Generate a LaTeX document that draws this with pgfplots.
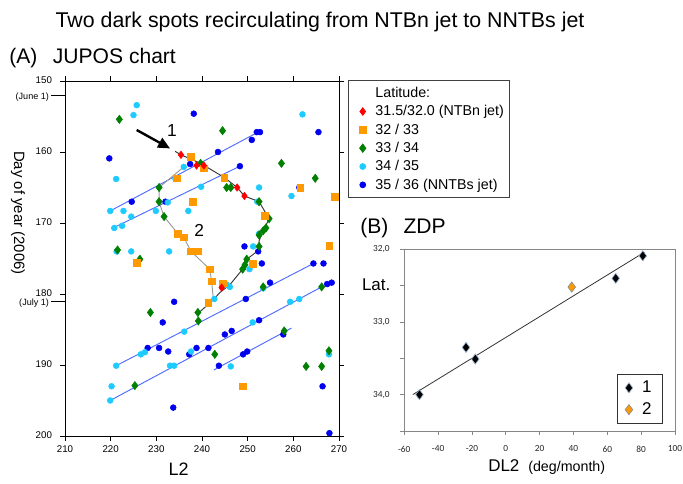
\documentclass[border=0pt]{standalone}
\usepackage{fontspec}
\setmainfont{Liberation Sans}
\newfontfamily\calib{Carlito}
\usepackage{pgfplots}
\pgfplotsset{compat=1.18}
\usetikzlibrary{arrows.meta}

\definecolor{latred}{HTML}{FF0000}
\definecolor{latorange}{HTML}{FF9900}
\definecolor{latgreen}{HTML}{008000}
\definecolor{latcyan}{HTML}{1ECBFF}
\definecolor{latblue}{HTML}{0000F0}
\definecolor{driftblue}{HTML}{4D6BFF}
\definecolor{framegray}{HTML}{868686}
\definecolor{edgeblue}{HTML}{9DB4D0}

\begin{document}
\begin{tikzpicture}
\useasboundingbox (0,0) rectangle (512.25pt,363pt);

% ---------------- (A) JUPOS chart ----------------
\begin{axis}[
  at={(48.75pt,36pt)}, anchor=south west,
  scale only axis, width=205.5pt, height=266.25pt,
  xmin=210, xmax=270, ymin=150, ymax=200, y dir=reverse,
  xtick={210,220,...,270}, ytick={150,160,...,200},
  tick pos=both, tick align=outside, major tick length=3.75pt,
  axis line style={line width=0.6pt},
  tick style={black, line width=0.6pt},
  /pgf/number format/assume math mode=true,
  ticklabel style={font=\fontsize{7.3}{8.5}\selectfont},
  yticklabel style={xshift=-2.5pt, inner ysep=0.3pt, yshift=0.5pt},
  extra y ticks={152,181},
  extra y tick labels={(June 1),(July 1)},
  extra y tick style={major tick length=10.5pt, ytick pos=left,
    yticklabel style={font=\fontsize{6.8}{8}\selectfont, xshift=4.5pt, yshift=-2pt, inner ysep=0.2pt}},
  legend style={at={(1.034,1.003)}, anchor=north west,
    draw=black!75, line width=0.6pt,
    font=\fontsize{10.7}{12.6}\selectfont,
    row sep=0.5pt, inner xsep=2pt, inner ysep=3pt,
    /tikz/every odd column/.append style={column sep=5pt}},
  legend cell align=left,
  reverse legend,
  clip=false,
]
% drift lines of the NNTBs jet
\addplot[driftblue, line width=0.7pt, forget plot] coordinates {(219.9,168.3) (252.3,157.2)};
\addplot[driftblue, line width=0.7pt, forget plot] coordinates {(220.2,170.8) (248.3,162.0)};
\addplot[driftblue, line width=0.7pt, forget plot] coordinates {(221.2,190.1) (264.4,175.7)};
\addplot[driftblue, line width=0.7pt, forget plot] coordinates {(219.9,195.0) (266.2,179.0)};
\addplot[driftblue, line width=0.7pt, forget plot] coordinates {(242.6,190.7) (259.6,184.8)};
% track of spot 1
\addplot[black!80, line width=0.7pt, forget plot] coordinates {
 (234.1,159.9) (235.4,160.4) (239.7,161.6) (244.9,163.6) (247.7,165.0)
 (249.3,166.2) (252.5,167.0) (254.7,169.4) (253.4,171.1) (252.5,172.5)
 (252.5,173.8) (249.8,175.1) (248.9,176.5) (246.1,178.7) (243.9,179.8)
 (242.5,180.8) (239.2,182.7)};
% track of spot 2
\addplot[black!40, line width=0.7pt, forget plot] coordinates {
 (236.0,162.1) (230.6,165.0) (230.6,167.0) (231.2,168.2) (231.7,169.1)
 (234.7,171.5) (236.0,172.0) (237.6,174.0) (241.7,176.5) (242.1,178.2)
 (242.5,180.8)};

% 35/36 (NNTBs jet)
\addplot[only marks, mark=*, mark size=2.2pt, mark options={draw=latblue, fill=latblue}] coordinates {
 (238.2,154.6) (219.7,160.9) (243.5,160.0) (237.4,161.7) (224.6,167.0)
 (232.0,167.0) (252.0,157.2) (252.7,157.2) (250.9,158.3) (265.5,157.2)
 (248.3,162.0) (261.3,165.0) (249.3,173.3) (252.3,174.0) (253.1,175.7)
 (264.4,175.7) (266.6,175.7) (254.9,178.4) (249.6,180.7) (267.4,178.6)
 (268.4,178.4) (252.5,183.7) (233.9,181.1) (231.4,184.0) (228.1,187.6)
 (230.6,187.6) (232.6,188.1) (238.8,187.6) (241.4,187.6) (237.2,188.5)
 (243.7,190.1) (233.7,196.0) (245.0,185.7) (246.5,185.2) (257.8,185.7)
 (249.0,188.5) (249.9,188.1) (266.4,193.0) (267.9,199.6)};
\addlegendentry{35 / 36 (NNTBs jet)}
% 34/35
\addplot[only marks, mark=*, mark size=2.2pt, mark options={draw=latcyan, fill=latcyan}] coordinates {
 (225.7,153.4) (225.0,154.8) (221.2,163.8) (236.0,162.1) (239.8,164.9)
 (234.2,163.8) (262.0,154.7) (252.5,165.0) (259.6,166.2) (252.1,167.0)
 (232.5,167.1) (219.9,168.3) (222.8,168.3) (229.9,168.3) (237.0,168.3)
 (224.5,169.1) (222.5,170.4) (220.8,170.7) (221.3,174.0) (224.5,174.0)
 (232.8,174.0) (252.5,171.5) (251.2,173.3) (250.4,176.5) (253.4,179.2)
 (245.4,178.7) (246.1,179.0) (242.7,180.7) (259.3,181.1) (261.3,180.7)
 (251.1,184.0) (236.1,185.3) (226.6,188.5) (227.5,188.2) (237.6,188.1)
 (221.2,190.1) (233.0,190.1) (233.9,190.1) (220.2,193.0) (219.9,195.0)
 (246.3,190.2) (267.8,188.5)};
\addlegendentry{34 / 35}
% 33/34
\addplot[only marks, mark=diamond*, mark size=3.1pt, mark options={draw=latgreen, fill=latgreen}] coordinates {
 (221.9,155.4) (239.7,161.6) (230.6,165.0) (230.6,167.0) (244.5,157.0)
 (257.4,161.6) (264.8,163.7) (245.4,165.0) (246.3,165.0) (252.5,167.0)
 (231.7,169.1) (254.7,169.4) (254.0,170.7) (253.4,171.1) (252.5,171.7)
 (252.5,173.3) (249.8,175.1) (249.4,175.9) (248.9,176.5) (221.5,173.8)
 (226.4,175.1) (228.7,182.6) (239.1,182.6) (239.2,183.8) (253.4,179.0)
 (266.2,179.0) (225.3,192.9) (242.8,188.5) (258.0,185.2) (262.8,190.2)
 (266.2,190.2) (267.8,188.0)};
\addlegendentry{33 / 34}
% 32/33
\addplot[only marks, mark=square*, mark size=2.5pt, mark options={draw=latorange, fill=latorange}] coordinates {
 (237.6,160.7) (240.4,162.3) (234.5,163.7) (238.0,167.0) (244.9,163.6)
 (261.5,165.0) (269.1,166.3) (234.7,171.5) (236.0,172.0) (237.6,174.0)
 (239.2,174.0) (241.7,176.5) (242.1,178.2) (241.4,181.2) (225.7,175.6)
 (253.8,169.0) (251.1,175.7) (267.9,173.2) (244.5,178.5) (248.9,193.0)};
\addlegendentry{32 / 33}
% 31.5/32.0 (NTBn jet)
\addplot[only marks, mark=diamond*, mark size=2.8pt, mark options={draw=latred, fill=latred}] coordinates {
 (235.4,160.4) (238.8,161.9) (240.4,161.9) (247.7,165.0) (249.3,166.2)
 (244.3,179.1)};
\addlegendentry{31.5/32.0 (NTBn jet)\hspace{5pt}}
\addlegendimage{empty legend}
\addlegendentry{Latitude:}

% spot labels
\draw[-{Triangle[length=9pt,width=8pt]}, line width=1.8pt] (axis cs:225.7,156.9) -- (axis cs:233.0,159.5);
\node[font=\fontsize{13}{15}\selectfont] at (axis cs:233.4,157.0) {1};
\node[font=\fontsize{13}{15}\selectfont] at (axis cs:239.4,171.0) {2};
\end{axis}

% ---------------- (B) ZDP ----------------
\begin{axis}[
  at={(303.2pt,39.75pt)}, anchor=south west,
  scale only axis, width=203pt, height=136.3pt,
  xmin=-60, xmax=100, ymin=32, ymax=34.5, y dir=reverse,
  xtick={-60,-40,...,100}, ytick={32,33,34},
  minor ytick={32.5,33.5,34.5},
  xtick pos=bottom, ytick pos=left, tick align=outside,
  major tick length=3pt, minor tick length=3pt,
  axis line style={framegray, line width=0.6pt},
  tick style={framegray, line width=0.6pt},
  /pgf/number format/assume math mode=true,
  yticklabel={\pgfmathprintnumber[fixed,fixed zerofill,precision=1,use comma]{\tick}},
  ticklabel style={font=\calib\fontsize{7}{8}\selectfont, text=black!85},
  yticklabel style={xshift=-4.5pt},
  xticklabel style={yshift=-4.5pt},
  legend style={at={(0.785,0.314)}, anchor=north west,
    draw=black!80, line width=0.6pt,
    font=\fontsize{12.75}{15}\selectfont,
    row sep=2pt, inner xsep=6pt, inner ysep=3pt,
    /tikz/every odd column/.append style={column sep=5pt}},
  legend cell align=left,
]
\addplot[black!80, line width=0.6pt, forget plot] coordinates {(-55,34.0) (82,32.04)};
\addplot[only marks, mark=diamond*, mark size=3.8pt, mark options={draw=edgeblue, fill=black, line width=0.5pt}] coordinates {
 (-51,34.0) (-23.5,33.35) (-18,33.51) (65,32.40) (81,32.09)};
\addlegendentry{1}
\addplot[only marks, mark=diamond*, mark size=3.8pt, mark options={draw=black!45, fill=latorange, line width=0.5pt}] coordinates {
 (39,32.52)};
\addlegendentry{2}
\end{axis}

% titles and axis names
\node[anchor=base, font=\fontsize{16}{18}\selectfont] at (240pt,342.5pt) {Two dark spots recirculating from NTBn jet to NNTBs jet};
\node[anchor=base west, inner sep=0pt, font=\fontsize{15.8}{18}\selectfont] at (6.75pt,315pt) {(A)};
\node[anchor=base west, inner sep=0pt, font=\fontsize{15.8}{18}\selectfont] at (39.5pt,315pt) {JUPOS chart};
\node[anchor=base west, inner sep=0pt, font=\fontsize{15.8}{18}\selectfont] at (270pt,188pt) {(B)};
\node[anchor=base west, inner sep=0pt, font=\fontsize{15.8}{18}\selectfont] at (302.5pt,188pt) {ZDP};
\node[anchor=base west, inner sep=0pt, font=\fontsize{12.75}{15}\selectfont] at (271.3pt,145pt) {Lat.};
\node[anchor=base west, inner sep=0pt, font=\fontsize{12.75}{15}\selectfont] at (366pt,9.2pt) {DL2};
\node[anchor=base west, inner sep=0pt, font=\fontsize{10.7}{13}\selectfont] at (396pt,9.2pt) {(deg/month)};
\node[anchor=base, inner sep=0pt, font=\fontsize{13.5}{15}\selectfont] at (134pt,6pt) {L2};
\node[rotate=-90, inner sep=0pt, font=\fontsize{11.2}{13}\selectfont] at (13.5pt,203.25pt) {Day of year (2006)};
\end{tikzpicture}
\end{document}
